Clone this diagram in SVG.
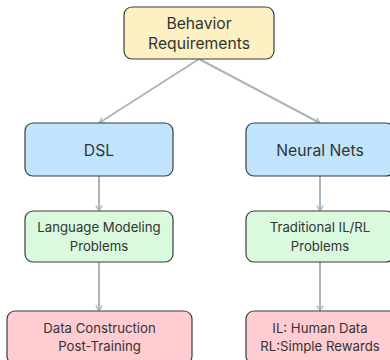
<svg xmlns="http://www.w3.org/2000/svg" width="390" height="360" viewBox="0 0 390 360">
<defs>
<marker id="ah" viewBox="0 0 10 10" refX="8" refY="5" markerWidth="8" markerHeight="8" markerUnits="userSpaceOnUse" orient="auto">
<path d="M1,1 L8,5 L1,9" fill="none" stroke="#a9b6bf" stroke-width="1.6"/>
</marker>
<style>
.box{stroke:#3d3d3d;stroke-width:1.2}
.y{fill:#fdf1c3}.b{fill:#c0e4fc}.g{fill:#d9fadd}.p{fill:#ffccd1}
text{font-family:Inter,"Noto Sans","Liberation Sans",sans-serif;fill:#333;text-anchor:middle}
.l{font-size:15.7px}.s{font-size:13.2px}
.c{stroke:#a9b6bf;stroke-width:2;fill:none;marker-end:url(#ah)}
</style>
</defs>
<g id="connectors">
<line class="c" x1="199" y1="59" x2="99" y2="123"/>
<line class="c" x1="199" y1="59" x2="320" y2="123"/>
<line class="c" x1="99" y1="176" x2="99" y2="211"/>
<line class="c" x1="320" y1="176" x2="320" y2="211"/>
<line class="c" x1="99" y1="262" x2="99" y2="311"/>
<line class="c" x1="320" y1="262" x2="320" y2="311"/>
</g>
<g id="behavior">
<rect class="box y" x="124" y="7" width="150" height="52" rx="8"/>
<text class="l" x="199" y="29">Behavior</text>
<text class="l" x="199" y="49">Requirements</text>
</g>
<g id="dsl">
<rect class="box b" x="25" y="123" width="148" height="53" rx="8"/>
<text class="l" x="99" y="156">DSL</text>
</g>
<g id="neural">
<rect class="box b" x="246" y="123" width="148" height="53" rx="8"/>
<text class="l" x="320" y="156">Neural Nets</text>
</g>
<g id="lm">
<rect class="box g" x="25" y="211" width="148" height="51" rx="8"/>
<text class="s" x="99" y="232">Language Modeling</text>
<text class="s" x="99" y="251">Problems</text>
</g>
<g id="ilrl">
<rect class="box g" x="246" y="211" width="148" height="51" rx="8"/>
<text class="s" x="320" y="232">Traditional IL/RL</text>
<text class="s" x="320" y="251">Problems</text>
</g>
<g id="data">
<rect class="box p" x="7" y="311" width="185" height="53" rx="8"/>
<text class="s" x="99.5" y="333">Data Construction</text>
<text class="s" x="99.5" y="351">Post-Training</text>
</g>
<g id="human">
<rect class="box p" x="246" y="311" width="185" height="53" rx="8"/>
<text class="s" x="320" y="333">IL: Human Data</text>
<text class="s" x="320" y="351">RL:Simple Rewards</text>
</g>
</svg>
